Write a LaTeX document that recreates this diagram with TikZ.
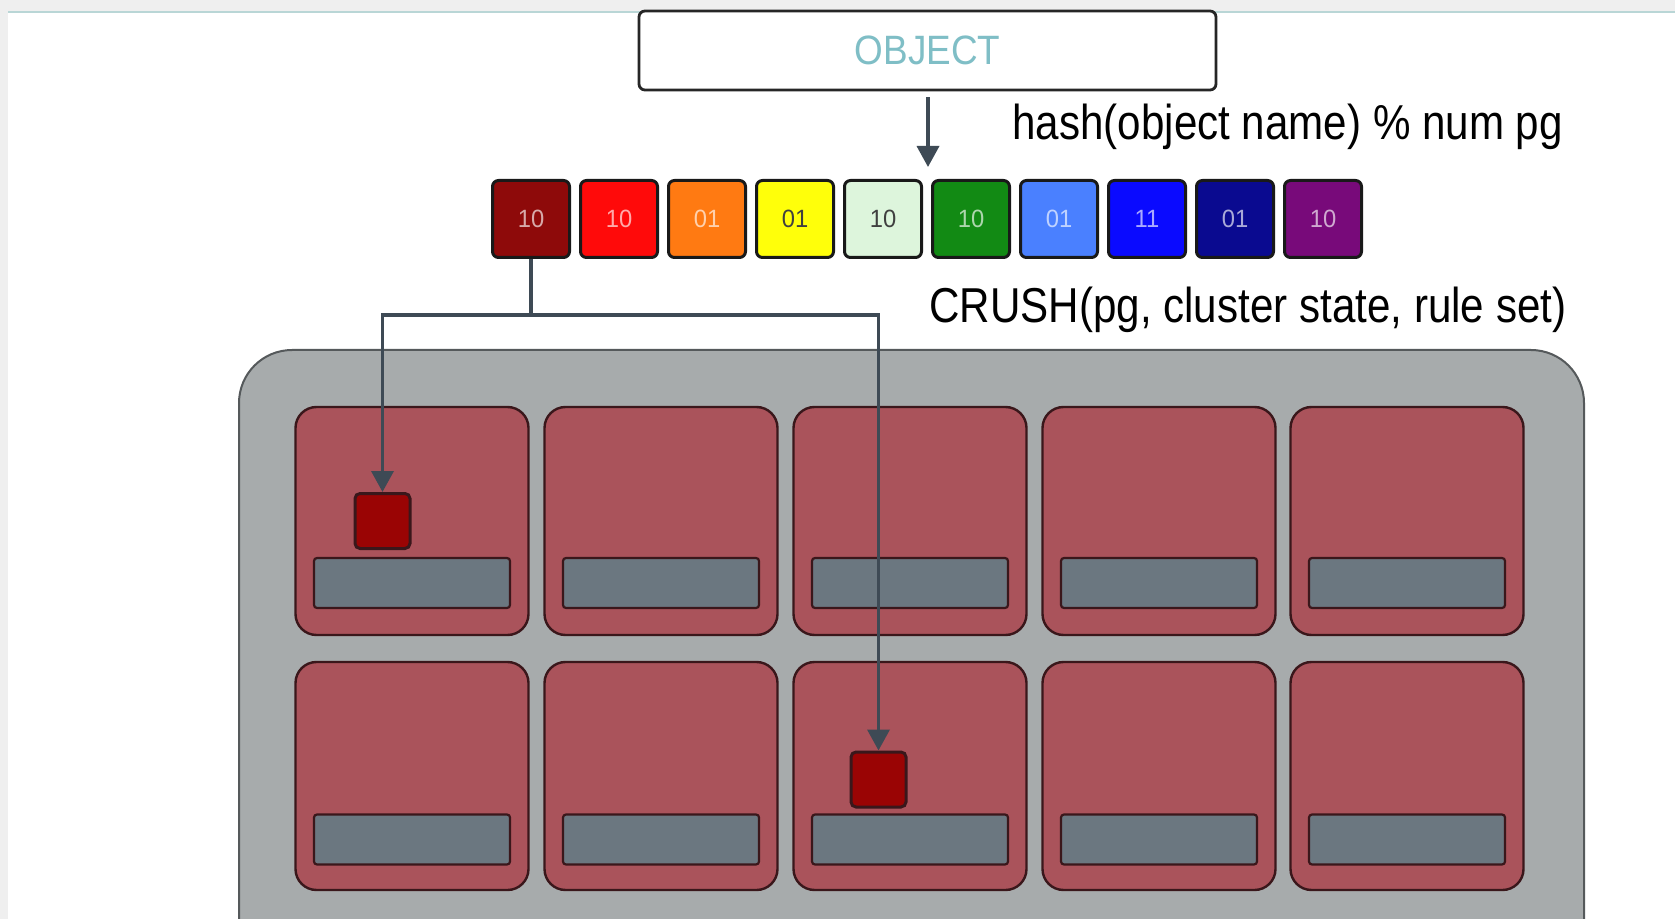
\documentclass[tikz,border=0pt]{standalone}
\usepackage{fontspec}
\setmainfont{Liberation Sans}
\usetikzlibrary{arrows.meta}

\definecolor{framegrey}{HTML}{EFEFEF}
\definecolor{frameline}{HTML}{B9D6D6}
\definecolor{objtext}{HTML}{7FBEC6}
\definecolor{connc}{HTML}{3E4A55}
\definecolor{boardc}{HTML}{A7ABAC}
\definecolor{boardedge}{HTML}{55595B}
\definecolor{diskc}{HTML}{AA535B}
\definecolor{diskedge}{HTML}{3A171B}
\definecolor{barc}{HTML}{6B7780}
\definecolor{pgsmall}{HTML}{9A0404}
\definecolor{pgA}{HTML}{8E0A0A}
\definecolor{pgB}{HTML}{FF0A0A}
\definecolor{pgC}{HTML}{FF7A12}
\definecolor{pgD}{HTML}{FFFF0A}
\definecolor{pgE}{HTML}{DDF5DC}
\definecolor{pgF}{HTML}{128A14}
\definecolor{pgG}{HTML}{4A80FF}
\definecolor{pgH}{HTML}{0A0AFF}
\definecolor{pgI}{HTML}{0A0A90}
\definecolor{pgJ}{HTML}{780A7A}

\newcommand{\pglabel}[1]{\fontsize{12.5pt}{12.5pt}\selectfont\scalebox{0.95}[1]{#1}}
\newcommand{\captext}[1]{\fontsize{24.5pt}{24.5pt}\selectfont\scalebox{0.86}[1]{#1}}

\tikzset{
  objbox/.style={draw=black!85, line width=1.4pt, rounded corners=3pt, fill=white,
    minimum width=288.5pt, minimum height=39.5pt, inner sep=0pt},
  pgbox/.style={draw=black!90, line width=1.5pt, rounded corners=3pt,
    minimum width=38.5pt, minimum height=38.5pt, inner sep=0pt,
    text=white, text opacity=0.65},
  pgdark/.style={pgbox, text=black!75, text opacity=1},
  disk/.style={draw=diskedge, line width=1.2pt, fill=diskc, rounded corners=10.5pt,
    minimum width=116.5pt, minimum height=114pt, inner sep=0pt},
  bar/.style={draw=diskedge, line width=1.1pt, fill=barc, rounded corners=1.5pt,
    minimum width=98pt, minimum height=25pt, inner sep=0pt},
  pgplaced/.style={draw=diskedge, line width=1.5pt, fill=pgsmall, rounded corners=2.5pt,
    minimum width=27.5pt, minimum height=27.5pt, inner sep=0pt},
  conn/.style={draw=connc, line width=1.8pt},
  connarrow/.style={conn, -{Triangle[length=10.5pt, width=11pt]}},
  caption/.style={inner sep=0pt, anchor=base west}
}

\begin{document}
\begin{tikzpicture}[x=0.5pt, y=-0.5pt]
  \useasboundingbox (0,0) rectangle (1675,919);
  \clip (0,0) rectangle (1675,919);

  % page frame
  \fill[white] (0,0) rectangle (1675,919);
  \fill[framegrey] (0,0) rectangle (1675,11);
  \fill[framegrey] (0,0) rectangle (8,919);
  \draw[frameline, line width=1pt] (8,12) -- (1675,12);

  % object
  \node[objbox] (obj) at (927.5,50.5)
    {\fontsize{20.5pt}{20.5pt}\selectfont\color{objtext}\scalebox{0.9}[1]{OBJECT}};
  \coordinate (hashend) at (928,167);
  \draw[connarrow] ([yshift=-3pt]obj.south -| hashend) -- (hashend);
  \node[caption] (hashlbl) at (1012,140) {\captext{hash(object name) \% num pg}};

  % placement groups
  \node[pgbox, fill=pgA] (pg1)  at (531,219)  {\pglabel{10}};
  \node[pgbox, fill=pgB] (pg2)  at (619,219)  {\pglabel{10}};
  \node[pgbox, fill=pgC] (pg3)  at (707,219)  {\pglabel{01}};
  \node[pgdark, fill=pgD] (pg4) at (795,219)  {\pglabel{01}};
  \node[pgdark, fill=pgE] (pg5) at (883,219)  {\pglabel{10}};
  \node[pgbox, fill=pgF] (pg6)  at (971,219)  {\pglabel{10}};
  \node[pgbox, fill=pgG] (pg7)  at (1059,219) {\pglabel{01}};
  \node[pgbox, fill=pgH] (pg8)  at (1147,219) {\pglabel{11}};
  \node[pgbox, fill=pgI] (pg9)  at (1235,219) {\pglabel{01}};
  \node[pgbox, fill=pgJ] (pg10) at (1323,219) {\pglabel{10}};

  \node[caption] (crushlbl) at (929,322.6) {\captext{CRUSH(pg, cluster state, rule set)}};

  % cluster
  \path[fill=boardc, draw=boardedge, line width=1pt, rounded corners=26.5pt]
    (239,350) rectangle (1584,1000);

  \foreach \c/\x in {1/412, 2/661, 3/910, 4/1159, 5/1407} {
    \node[disk] (d1\c) at (\x,521) {};
    \node[bar]  (b1\c) at (\x,583) {};
    \node[disk] (d2\c) at (\x,776) {};
    \node[bar]  (b2\c) at (\x,839.5) {};
  }

  \node[pgplaced] (copyA) at (382.5,521) {};
  \node[pgplaced] (copyB) at (878.5,779.5) {};

  % crush mapping
  \coordinate (split) at (531,315);
  \draw[conn] (pg1.south) -- (split);
  \draw[connarrow] (split) -| (copyA.north);
  \draw[connarrow] (split) -| (copyB.north);
\end{tikzpicture}
\end{document}
